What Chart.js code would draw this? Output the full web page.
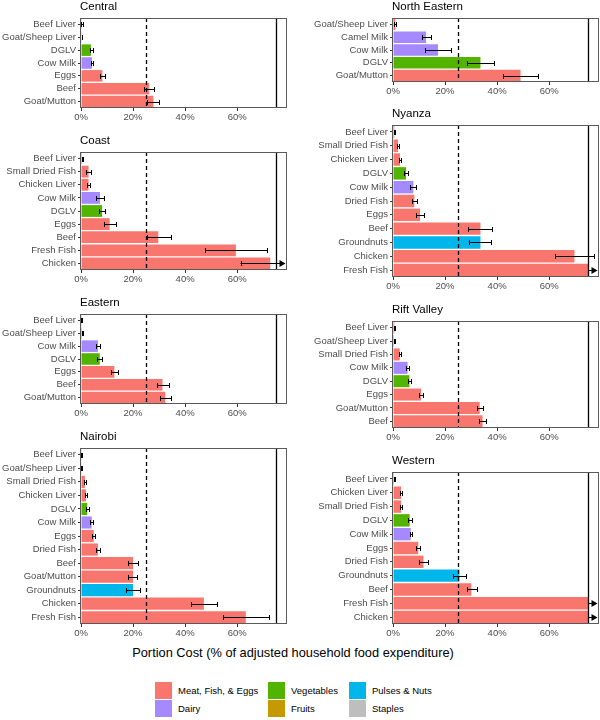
<!DOCTYPE html>
<html>
<head>
<meta charset="utf-8">
<script src="https://cdn.jsdelivr.net/npm/chart.js@4"></script>
<style>
  body { margin:0; background:#fff; font-family:"Liberation Sans", Arial, sans-serif; }
  #page { position:relative; width:600px; height:720px; overflow:hidden; }
  canvas { position:absolute; }
  .xtitle { position:absolute; left:0; width:586px; top:645px; text-align:center; font-size:12.8px; color:#000; }
  .key { position:absolute; width:17px; height:17px; }
  .ktxt { position:absolute; font-size:9.5px; color:#000; line-height:17px; white-space:nowrap; }
</style>
</head>
<body>
<div id="page">
  <div class="xtitle">Portion Cost (% of adjusted household food expenditure)</div>
  <div id="legend"></div>
</div>
<script>
// food groups -> colours
const groupNames = { M:'Meat, Fish, & Eggs', D:'Dairy', V:'Vegetables', F:'Fruits', P:'Pulses & Nuts', S:'Staples' };
const groupColors = { M:'#F8766D', D:'#A58AFF', V:'#53B400', F:'#C49A00', P:'#00B6EB', S:'#BEBEBE' };

// x axis
const xTicks = [0, 20, 40, 60];
const refDashed = 25;
const refSolid = 75;
const xMax = 78.75;

// Central
const centralLabels = ['Beef Liver','Goat/Sheep Liver','DGLV','Cow Milk','Eggs','Beef','Goat/Mutton'];
const centralValues = [0.3, 0.3, 3.8, 4.2, 8.2, 26.2, 27.8];
const centralLo     = [0.1, 0.2, 3.3, 3.7, 7.4, 24.1, 25.5];
const centralHi     = [0.6, 0.5, 4.5, 4.7, 9.1, 28.1, 29.9];
const centralGroups = ['M','M','V','D','M','M','M'];

// Coast
const coastLabels = ['Beef Liver','Small Dried Fish','Chicken Liver','Cow Milk','DGLV','Eggs','Beef','Fresh Fish','Chicken'];
const coastValues = [0.4, 2.9, 2.9, 7.3, 8.1, 11.0, 29.7, 59.5, 72.7];
const coastLo     = [0.2, 2.1, 2.3, 5.9, 6.9, 8.7, 25.4, 47.6, 61.3];
const coastHi     = [0.6, 3.7, 3.6, 9.0, 9.4, 13.3, 34.6, 71.3, null]; // null = beyond axis
const coastGroups = ['M','M','M','D','V','M','M','M','M'];

// Eastern
const easternLabels = ['Beef Liver','Goat/Sheep Liver','Cow Milk','DGLV','Eggs','Beef','Goat/Mutton'];
const easternValues = [0.3, 0.4, 6.5, 7.2, 12.8, 31.3, 32.4];
const easternLo     = [0.1, 0.2, 5.8, 6.3, 11.5, 29.2, 30.3];
const easternHi     = [0.5, 0.6, 7.2, 7.9, 14.2, 33.8, 34.6];
const easternGroups = ['M','M','D','V','M','M','M'];

// Nairobi
const nairobiLabels = ['Beef Liver','Goat/Sheep Liver','Small Dried Fish','Chicken Liver','DGLV','Cow Milk','Eggs','Dried Fish','Beef','Goat/Mutton','Groundnuts','Chicken','Fresh Fish'];
const nairobiValues = [0.3, 0.1, 1.5, 1.9, 2.4, 4.1, 4.9, 6.5, 20.0, 20.0, 20.0, 47.2, 63.3];
const nairobiLo     = [0.1, 0.0, 1.2, 1.6, 1.9, 3.6, 4.4, 5.8, 17.9, 18.2, 17.3, 42.3, 54.7];
const nairobiHi     = [0.5, 0.3, 1.9, 2.2, 2.9, 4.6, 5.4, 7.4, 21.9, 21.7, 22.6, 52.3, 72.3];
const nairobiGroups = ['M','M','M','M','V','D','M','M','M','M','P','M','M'];

// North Eastern
const northEasternLabels = ['Goat/Sheep Liver','Camel Milk','Cow Milk','DGLV','Goat/Mutton'];
const northEasternValues = [0.9, 12.7, 17.3, 33.6, 49.0];
const northEasternLo     = [0.5, 11.0, 12.4, 28.6, 42.2];
const northEasternHi     = [1.3, 14.5, 22.4, 38.7, 55.8];
const northEasternGroups = ['M','D','D','V','M'];

// Nyanza (Fresh Fish capped at 75)
const nyanzaLabels = ['Beef Liver','Small Dried Fish','Chicken Liver','DGLV','Cow Milk','Dried Fish','Eggs','Beef','Groundnuts','Chicken','Fresh Fish'];
const nyanzaValues = [0.5, 1.9, 2.7, 5.0, 7.8, 8.2, 10.4, 33.6, 33.6, 69.7, 75];
const nyanzaLo     = [0.3, 1.5, 2.4, 4.1, 6.5, 7.2, 9.0, 28.7, 29.2, 62.2, null];
const nyanzaHi     = [0.8, 2.4, 3.2, 5.9, 9.0, 9.4, 11.9, 38.1, 37.8, 77.2, null];
const nyanzaGroups = ['M','M','M','V','D','M','M','M','P','M','M'];

// Rift Valley
const riftLabels = ['Beef Liver','Goat/Sheep Liver','Small Dried Fish','Cow Milk','DGLV','Eggs','Goat/Mutton','Beef'];
const riftValues = [0.5, 0.4, 2.6, 5.6, 6.3, 10.8, 33.3, 34.4];
const riftLo     = [0.3, 0.2, 2.2, 5.1, 5.6, 10.1, 32.1, 33.0];
const riftHi     = [0.7, 0.6, 2.9, 6.0, 7.1, 11.5, 34.7, 35.9];
const riftGroups = ['M','M','M','D','V','M','M','M'];

// Western (Fresh Fish, Chicken capped at 75)
const westernLabels = ['Beef Liver','Chicken Liver','Small Dried Fish','DGLV','Cow Milk','Eggs','Dried Fish','Groundnuts','Beef','Fresh Fish','Chicken'];
const westernValues = [0.4, 3.1, 3.1, 6.4, 6.8, 9.7, 11.7, 25.5, 30.1, 75, 75];
const westernLo     = [0.2, 2.7, 2.7, 5.9, 6.4, 9.0, 10.0, 22.9, 28.5, null, null];
const westernHi     = [0.6, 3.5, 3.6, 7.2, 7.3, 10.5, 13.3, 28.2, 32.1, null, null];
const westernGroups = ['M','M','M','V','D','M','M','P','M','M','M'];

Chart.defaults.font.family = '"Liberation Sans", Arial, sans-serif';
Chart.defaults.animation = false;

// panel lines, error bars, border and title
const panelDecor = {
  id: 'panelDecor',
  afterDatasetsDraw(chart) {
    const o = chart.options.plugins.panelDecor;
    const { ctx, chartArea: a } = chart;
    const x = chart.scales.x, y = chart.scales.y;
    ctx.save();
    // reference lines
    ctx.strokeStyle = '#000';
    ctx.lineWidth = 1.3;
    ctx.setLineDash([4, 3]);
    const xd = Math.round(x.getPixelForValue(refDashed)) + 0.5;
    ctx.beginPath(); ctx.moveTo(xd, a.top); ctx.lineTo(xd, a.bottom); ctx.stroke();
    ctx.setLineDash([]);
    const xs = Math.round(x.getPixelForValue(refSolid)) + 0.5;
    ctx.beginPath(); ctx.moveTo(xs, a.top); ctx.lineTo(xs, a.bottom); ctx.stroke();

    // error bars
    ctx.lineWidth = 1;
    ctx.fillStyle = '#000';
    o.lo.forEach((lo, i) => {
      const hi = o.hi[i];
      const yc = Math.round(y.getPixelForValue(i)) + 0.5;
      if (hi === null) {
        // runs off the axis: arrow to the panel edge
        const start = x.getPixelForValue(lo === null ? o.values[i] : lo);
        const tip = a.right - 0.5;
        ctx.beginPath(); ctx.moveTo(start, yc); ctx.lineTo(tip - 5, yc); ctx.stroke();
        if (lo !== null) {
          ctx.beginPath(); ctx.moveTo(Math.round(start) + 0.5, yc - 2.5); ctx.lineTo(Math.round(start) + 0.5, yc + 2.5); ctx.stroke();
        }
        ctx.beginPath(); ctx.moveTo(tip, yc); ctx.lineTo(tip - 6, yc - 3.5); ctx.lineTo(tip - 6, yc + 3.5); ctx.closePath(); ctx.fill();
        return;
      }
      const x1 = Math.round(x.getPixelForValue(lo)) + 0.5;
      const x2 = Math.round(x.getPixelForValue(hi)) + 0.5;
      ctx.beginPath();
      ctx.moveTo(x1, yc); ctx.lineTo(x2, yc);
      ctx.moveTo(x1, yc - 2.5); ctx.lineTo(x1, yc + 2.5);
      ctx.moveTo(x2, yc - 2.5); ctx.lineTo(x2, yc + 2.5);
      ctx.stroke();
    });

    // panel border
    ctx.strokeStyle = '#5a5a5a';
    ctx.lineWidth = 1;
    ctx.strokeRect(Math.round(a.left) - 0.5, Math.round(a.top) + 0.5, Math.round(a.right - a.left) + 1, Math.round(a.bottom - a.top) - 1);

    // title
    ctx.fillStyle = '#000';
    ctx.font = '11.5px "Liberation Sans", Arial, sans-serif';
    ctx.textBaseline = 'middle';
    ctx.textAlign = 'left';
    ctx.fillText(o.title, a.left - 1, a.top - 11.5);
    ctx.restore();
  }
};

// left: page x of canvas, axisW: width of y axis, top/bottom: plot area on page
function makePanel(title, labels, values, lo, hi, groups, left, axisW, padRight, top, bottom) {
  const cTop = top - 18;
  const xAxisH = 22;
  const cv = document.createElement('canvas');
  cv.width = 300;
  cv.height = bottom - cTop + xAxisH;
  cv.style.left = left + 'px';
  cv.style.top = cTop + 'px';
  document.getElementById('page').appendChild(cv);

  new Chart(cv, {
    type: 'bar',
    data: {
      labels,
      datasets: [{
        data: values,
        backgroundColor: groups.map(g => groupColors[g]),
        barPercentage: 0.9,
        categoryPercentage: 1
      }]
    },
    options: {
      indexAxis: 'y',
      responsive: false,
      devicePixelRatio: 1,
      layout: { padding: { top: 18, right: padRight, left: 0, bottom: 0 } },
      plugins: {
        legend: { display: false },
        tooltip: { enabled: false },
        panelDecor: { title, lo, hi, values }
      },
      scales: {
        x: {
          type: 'linear', min: 0, max: xMax,
          afterBuildTicks: (s) => { s.ticks = xTicks.map(v => ({ value: v })); },
          afterFit: (s) => { s.height = xAxisH; },
          ticks: { callback: (v) => v + '%', color: '#4d4d4d', font: { size: 9.5 }, padding: 1, maxRotation: 0 },
          grid: { display: true, drawOnChartArea: false, drawTicks: true, tickLength: 3, color: '#333' },
          border: { display: false }
        },
        y: {
          afterFit: (s) => { s.width = axisW; },
          ticks: { color: '#4d4d4d', font: { size: 9.5 }, padding: 2, autoSkip: false },
          grid: { display: true, offset: false, drawOnChartArea: false, drawTicks: true, tickLength: 3, color: '#333' },
          border: { display: false }
        }
      }
    },
    plugins: [panelDecor]
  });
}

makePanel('Central', centralLabels, centralValues, centralLo, centralHi, centralGroups, 0, 81, 14, 18, 108);
makePanel('Coast', coastLabels, coastValues, coastLo, coastHi, coastGroups, 0, 81, 14, 152, 270);
makePanel('Eastern', easternLabels, easternValues, easternLo, easternHi, easternGroups, 0, 81, 14, 314, 404);
makePanel('Nairobi', nairobiLabels, nairobiValues, nairobiLo, nairobiHi, nairobiGroups, 0, 81, 14, 448, 624);
makePanel('North Eastern', northEasternLabels, northEasternValues, northEasternLo, northEasternHi, northEasternGroups, 300, 93, 2, 18, 82);
makePanel('Nyanza', nyanzaLabels, nyanzaValues, nyanzaLo, nyanzaHi, nyanzaGroups, 300, 93, 2, 125, 277);
makePanel('Rift Valley', riftLabels, riftValues, riftLo, riftHi, riftGroups, 300, 93, 2, 321, 428);
makePanel('Western', westernLabels, westernValues, westernLo, westernHi, westernGroups, 300, 93, 2, 472, 624);

// legend: 3 columns x 2 rows
const legendOrder = ['M','V','P','D','F','S'];
const legendCols = [155, 268, 349];
const legendRows = [682, 700];
const lg = document.getElementById('legend');
legendOrder.forEach((g, i) => {
  const col = i % 3, row = Math.floor(i / 3);
  const k = document.createElement('div');
  k.className = 'key';
  k.style.left = legendCols[col] + 'px';
  k.style.top = legendRows[row] + 'px';
  k.style.background = groupColors[g];
  const t = document.createElement('div');
  t.className = 'ktxt';
  t.style.left = (legendCols[col] + 23) + 'px';
  t.style.top = legendRows[row] + 'px';
  t.textContent = groupNames[g];
  lg.appendChild(k); lg.appendChild(t);
});
</script>
</body>
</html>
